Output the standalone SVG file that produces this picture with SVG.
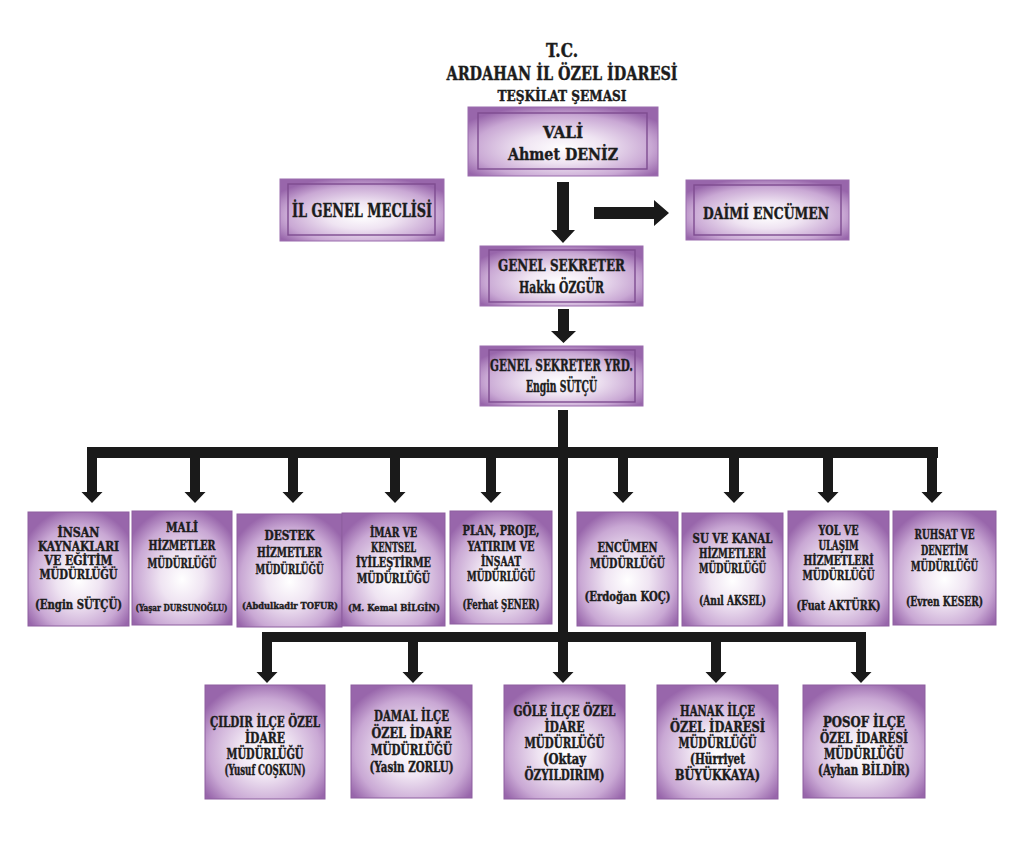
<svg xmlns="http://www.w3.org/2000/svg" width="1024" height="842" viewBox="0 0 1024 842">
<style>
.t{font-family:"DejaVu Serif Condensed","DejaVu Serif","Liberation Serif",serif;font-weight:bold;font-stretch:condensed;fill:#1c1c1c;stroke:#1c1c1c;stroke-width:0.4;text-anchor:middle}
.s{font-size:13px}
.n{font-size:10px}
.b{font-size:14px}
.h{font-size:17px}
.box{fill:url(#fill);stroke:#8d5f9f;stroke-width:1}
.frame{fill:url(#fill);stroke:#9a6cad;stroke-width:1}
.inner{fill:none;stroke:#7e4c90;stroke-width:1.4}
.ar{fill:#1a1a1a}
</style>
<defs>
<radialGradient id="fill" cx="50%" cy="58%" r="62%" fx="50%" fy="60%">
<stop offset="0" stop-color="#ffffff"/>
<stop offset="0.35" stop-color="#efe4f2"/>
<stop offset="0.75" stop-color="#c9a8d4"/>
<stop offset="1" stop-color="#9866ab"/>
</radialGradient>
</defs>
<rect width="1024" height="842" fill="#ffffff"/>

<g id="title">
<text class="t" x="562" y="57" font-size="18" textLength="32" lengthAdjust="spacingAndGlyphs">T.C.</text>
<text class="t" x="562" y="80" font-size="19" textLength="231" lengthAdjust="spacingAndGlyphs">ARDAHAN İL ÖZEL İDARESİ</text>
<text class="t" x="562" y="101" font-size="15" textLength="129" lengthAdjust="spacingAndGlyphs">TEŞKİLAT ŞEMASI</text>
</g>

<g id="connectors">
<path class="ar" d="M557,182 H569 V230 H575 L563,243 L551,230 H557 Z"/>
<path class="ar" d="M594,207 H654 V200 L669,213 L654,226 V219 H594 Z"/>
<path class="ar" d="M558,309 H569 V331 H576 L563.5,343 L551,331 H558 Z"/>
<rect class="ar" x="558" y="410" width="10" height="263"/>
<path class="ar" d="M552.5,672 H573.5 L563,683 Z"/>
<rect class="ar" x="87" y="447" width="851" height="11"/>
<g id="top-arrows">
<path class="ar" d="M87,452 H97 V492 H102.5 L92,503 L81.5,492 H87 Z"/>
<path class="ar" d="M190,452 H200 V492 H205.5 L195,503 L184.5,492 H190 Z"/>
<path class="ar" d="M288,452 H298 V492 H303.5 L293,503 L282.5,492 H288 Z"/>
<path class="ar" d="M390,452 H400 V492 H405.5 L395,503 L384.5,492 H390 Z"/>
<path class="ar" d="M486,452 H496 V492 H501.5 L491,503 L480.5,492 H486 Z"/>
<path class="ar" d="M618,452 H628 V492 H633.5 L623,503 L612.5,492 H618 Z"/>
<path class="ar" d="M729,452 H739 V492 H744.5 L734,503 L723.5,492 H729 Z"/>
<path class="ar" d="M823,452 H833 V492 H838.5 L828,503 L817.5,492 H823 Z"/>
<path class="ar" d="M927,452 H937 V492 H942.5 L932,503 L921.5,492 H927 Z"/>
</g>
<rect class="ar" x="262" y="632" width="604" height="10"/>
<g id="bottom-arrows">
<path class="ar" d="M262,637 H272 V672 H277.5 L267,683 L256.5,672 H262 Z"/>
<path class="ar" d="M408,637 H418 V672 H423.5 L413,683 L402.5,672 H408 Z"/>
<path class="ar" d="M711,637 H721 V672 H726.5 L716,683 L705.5,672 H711 Z"/>
<path class="ar" d="M856,637 H866 V672 H871.5 L861,683 L850.5,672 H856 Z"/>
</g>
</g>

<g id="vali">
<rect class="frame" x="468" y="107" width="190" height="69"/>
<rect class="inner" x="478" y="113" width="169" height="56"/>
<text class="t h" x="563" y="138" textLength="40" lengthAdjust="spacingAndGlyphs">VALİ</text>
<text class="t h" x="563" y="160" textLength="110" lengthAdjust="spacingAndGlyphs">Ahmet DENİZ</text>
</g>
<g id="il-genel-meclisi">
<rect class="frame" x="280" y="179" width="164" height="62"/>
<rect class="inner" x="288" y="184" width="147" height="51"/>
<text class="t" font-size="18" x="362" y="217" textLength="140" lengthAdjust="spacingAndGlyphs">İL GENEL MECLİSİ</text>
</g>
<g id="daimi-encumen">
<rect class="frame" x="686" y="180" width="163" height="60"/>
<rect class="inner" x="694" y="185" width="147" height="50"/>
<text class="t" font-size="17.5" x="766" y="219" textLength="126" lengthAdjust="spacingAndGlyphs">DAİMİ ENCÜMEN</text>
</g>
<g id="genel-sekreter">
<rect class="frame" x="480" y="246" width="163" height="60"/>
<rect class="inner" x="489" y="250" width="146" height="52"/>
<text class="t h" x="561.5" y="271" textLength="127" lengthAdjust="spacingAndGlyphs">GENEL SEKRETER</text>
<text class="t h" x="561.5" y="293" textLength="85" lengthAdjust="spacingAndGlyphs">Hakkı ÖZGÜR</text>
</g>
<g id="genel-sekreter-yrd">
<rect class="frame" x="480" y="346" width="163" height="60"/>
<rect class="inner" x="489" y="350" width="146" height="52"/>
<text class="t h" x="561.5" y="371" textLength="143" lengthAdjust="spacingAndGlyphs">GENEL SEKRETER YRD.</text>
<text class="t h" x="561.5" y="392" textLength="71" lengthAdjust="spacingAndGlyphs">Engin SÜTÇÜ</text>
</g>

<g id="insan-kaynaklari">
<rect class="box" x="28" y="512" width="101" height="114"/>
<text class="t s" x="78.5" y="537" textLength="42" lengthAdjust="spacingAndGlyphs">İNSAN</text>
<text class="t s" x="78.5" y="551" textLength="81" lengthAdjust="spacingAndGlyphs">KAYNAKLARI</text>
<text class="t s" x="78.5" y="565" textLength="68" lengthAdjust="spacingAndGlyphs">VE EĞİTİM</text>
<text class="t s" x="78.5" y="579" textLength="78" lengthAdjust="spacingAndGlyphs">MÜDÜRLÜĞÜ</text>
<text class="t s" x="78.5" y="609" textLength="87" lengthAdjust="spacingAndGlyphs">(Engin SÜTÇÜ)</text>
</g>
<g id="mali-hizmetler">
<rect class="box" x="132" y="511" width="100" height="114"/>
<text class="t s" x="182" y="532" textLength="32" lengthAdjust="spacingAndGlyphs">MALİ</text>
<text class="t s" x="182" y="550" textLength="67" lengthAdjust="spacingAndGlyphs">HİZMETLER</text>
<text class="t s" x="182" y="568" textLength="69" lengthAdjust="spacingAndGlyphs">MÜDÜRLÜĞÜ</text>
<text class="t n" x="181.5" y="611" textLength="92" lengthAdjust="spacingAndGlyphs">(Yaşar DURSUNOĞLU)</text>
</g>
<g id="destek-hizmetler">
<rect class="box" x="237" y="514" width="105" height="113"/>
<text class="t s" x="289.5" y="540" textLength="50" lengthAdjust="spacingAndGlyphs">DESTEK</text>
<text class="t s" x="289.5" y="557" textLength="65" lengthAdjust="spacingAndGlyphs">HİZMETLER</text>
<text class="t s" x="289.5" y="574" textLength="68" lengthAdjust="spacingAndGlyphs">MÜDÜRLÜĞÜ</text>
<text class="t n" x="290" y="609" textLength="96" lengthAdjust="spacingAndGlyphs">(Abdulkadir TOFUR)</text>
</g>
<g id="imar">
<rect class="box" x="342" y="513" width="103" height="113"/>
<text class="t s" x="393.5" y="537" textLength="47" lengthAdjust="spacingAndGlyphs">İMAR VE</text>
<text class="t s" x="393.5" y="552" textLength="45" lengthAdjust="spacingAndGlyphs">KENTSEL</text>
<text class="t s" x="393.5" y="567" textLength="75" lengthAdjust="spacingAndGlyphs">İYİLEŞTİRME</text>
<text class="t s" x="393.5" y="583" textLength="73" lengthAdjust="spacingAndGlyphs">MÜDÜRLÜĞÜ</text>
<text class="t n" x="394" y="611" textLength="92" lengthAdjust="spacingAndGlyphs">(M. Kemal BİLGİN)</text>
</g>
<g id="plan-proje">
<rect class="box" x="450" y="511" width="102" height="113"/>
<text class="t s" x="501" y="535" textLength="77" lengthAdjust="spacingAndGlyphs">PLAN, PROJE,</text>
<text class="t s" x="501" y="551" textLength="67" lengthAdjust="spacingAndGlyphs">YATIRIM VE</text>
<text class="t s" x="501" y="566" textLength="40" lengthAdjust="spacingAndGlyphs">İNŞAAT</text>
<text class="t s" x="501" y="581" textLength="68" lengthAdjust="spacingAndGlyphs">MÜDÜRLÜĞÜ</text>
<text class="t s" x="501" y="609" textLength="77" lengthAdjust="spacingAndGlyphs">(Ferhat ŞENER)</text>
</g>
<g id="encumen">
<rect class="box" x="577" y="512" width="101" height="114"/>
<text class="t s" x="627.5" y="552" textLength="60" lengthAdjust="spacingAndGlyphs">ENCÜMEN</text>
<text class="t s" x="627.5" y="568" textLength="75" lengthAdjust="spacingAndGlyphs">MÜDÜRLÜĞÜ</text>
<text class="t s" x="627.5" y="601" textLength="86" lengthAdjust="spacingAndGlyphs">(Erdoğan KOÇ)</text>
</g>
<g id="su-kanal">
<rect class="box" x="682" y="513" width="101" height="113"/>
<text class="t s" x="732.5" y="543" textLength="80" lengthAdjust="spacingAndGlyphs">SU VE KANAL</text>
<text class="t s" x="732.5" y="558" textLength="67" lengthAdjust="spacingAndGlyphs">HİZMETLERİ</text>
<text class="t s" x="732.5" y="573" textLength="67" lengthAdjust="spacingAndGlyphs">MÜDÜRLÜĞÜ</text>
<text class="t s" x="732.5" y="605" textLength="67" lengthAdjust="spacingAndGlyphs">(Anıl AKSEL)</text>
</g>
<g id="yol-ulasim">
<rect class="box" x="788" y="511" width="101" height="115"/>
<text class="t s" x="838.5" y="535" textLength="40" lengthAdjust="spacingAndGlyphs">YOL VE</text>
<text class="t s" x="838.5" y="550" textLength="40" lengthAdjust="spacingAndGlyphs">ULAŞIM</text>
<text class="t s" x="838.5" y="565" textLength="70" lengthAdjust="spacingAndGlyphs">HİZMETLERİ</text>
<text class="t s" x="838.5" y="580" textLength="72" lengthAdjust="spacingAndGlyphs">MÜDÜRLÜĞÜ</text>
<text class="t s" x="838.5" y="610" textLength="84" lengthAdjust="spacingAndGlyphs">(Fuat AKTÜRK)</text>
</g>
<g id="ruhsat">
<rect class="box" x="893" y="511" width="103" height="114"/>
<text class="t s" x="944.5" y="539" textLength="60" lengthAdjust="spacingAndGlyphs">RUHSAT VE</text>
<text class="t s" x="944.5" y="555" textLength="47" lengthAdjust="spacingAndGlyphs">DENETİM</text>
<text class="t s" x="944.5" y="571" textLength="67" lengthAdjust="spacingAndGlyphs">MÜDÜRLÜĞÜ</text>
<text class="t s" x="944.5" y="606" textLength="77" lengthAdjust="spacingAndGlyphs">(Evren KESER)</text>
</g>

<g id="cildir">
<rect class="box" x="205" y="685" width="120" height="114"/>
<text class="t b" x="265" y="727" textLength="110" lengthAdjust="spacingAndGlyphs">ÇILDIR İLÇE ÖZEL</text>
<text class="t b" x="265" y="743" textLength="40" lengthAdjust="spacingAndGlyphs">İDARE</text>
<text class="t b" x="265" y="759" textLength="77" lengthAdjust="spacingAndGlyphs">MÜDÜRLÜĞÜ</text>
<text class="t b" x="265" y="775" textLength="81" lengthAdjust="spacingAndGlyphs">(Yusuf COŞKUN)</text>
</g>
<g id="damal">
<rect class="box" x="351" y="685" width="121" height="113"/>
<text class="t b" x="411.5" y="721" textLength="75" lengthAdjust="spacingAndGlyphs">DAMAL İLÇE</text>
<text class="t b" x="411.5" y="738" textLength="80" lengthAdjust="spacingAndGlyphs">ÖZEL İDARE</text>
<text class="t b" x="411.5" y="755" textLength="81" lengthAdjust="spacingAndGlyphs">MÜDÜRLÜĞÜ</text>
<text class="t b" x="411.5" y="772" textLength="84" lengthAdjust="spacingAndGlyphs">(Yasin ZORLU)</text>
</g>
<g id="gole">
<rect class="box" x="504" y="685" width="121" height="114"/>
<text class="t b" x="564.5" y="716" textLength="102" lengthAdjust="spacingAndGlyphs">GÖLE İLÇE ÖZEL</text>
<text class="t b" x="564.5" y="732" textLength="40" lengthAdjust="spacingAndGlyphs">İDARE</text>
<text class="t b" x="564.5" y="748" textLength="80" lengthAdjust="spacingAndGlyphs">MÜDÜRLÜĞÜ</text>
<text class="t b" x="564.5" y="764" textLength="43" lengthAdjust="spacingAndGlyphs">(Oktay</text>
<text class="t b" x="564.5" y="780" textLength="80" lengthAdjust="spacingAndGlyphs">ÖZYILDIRIM)</text>
</g>
<g id="hanak">
<rect class="box" x="657" y="685" width="121" height="114"/>
<text class="t b" x="717.5" y="716" textLength="75" lengthAdjust="spacingAndGlyphs">HANAK İLÇE</text>
<text class="t b" x="717.5" y="732" textLength="95" lengthAdjust="spacingAndGlyphs">ÖZEL İDARESİ</text>
<text class="t b" x="717.5" y="748" textLength="78" lengthAdjust="spacingAndGlyphs">MÜDÜRLÜĞÜ</text>
<text class="t b" x="717.5" y="764" textLength="55" lengthAdjust="spacingAndGlyphs">(Hürriyet</text>
<text class="t b" x="717.5" y="780" textLength="85" lengthAdjust="spacingAndGlyphs">BÜYÜKKAYA)</text>
</g>
<g id="posof">
<rect class="box" x="803" y="685" width="122" height="113"/>
<text class="t b" x="864" y="727" textLength="82" lengthAdjust="spacingAndGlyphs">POSOF İLÇE</text>
<text class="t b" x="864" y="743" textLength="88" lengthAdjust="spacingAndGlyphs">ÖZEL İDARESİ</text>
<text class="t b" x="864" y="759" textLength="80" lengthAdjust="spacingAndGlyphs">MÜDÜRLÜĞÜ</text>
<text class="t b" x="864" y="775" textLength="92" lengthAdjust="spacingAndGlyphs">(Ayhan BİLDİR)</text>
</g>
</svg>
